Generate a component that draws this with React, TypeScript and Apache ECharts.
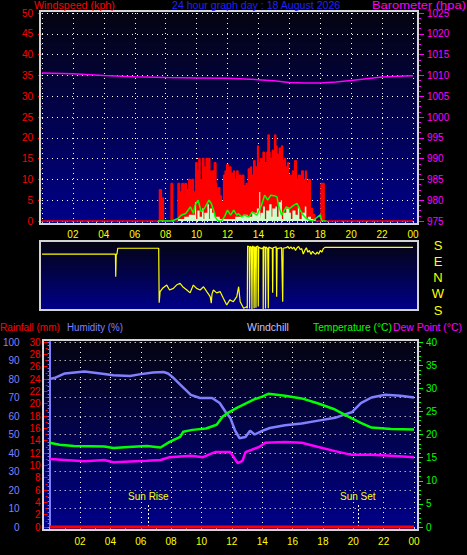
import React, { useEffect, useRef } from 'react';
import * as echarts from 'echarts';

// ---------- DATA ----------
const hourTickLabels = ['', '02', '04', '06', '08', '10', '12', '14', '16', '18', '20', '22', '00'];
const compassLabels = ['S', 'W', 'N', 'E', 'S']; // bottom to top

// Windspeed panel (hours, kph)
const windGust: [number, number][] = [
  [0, 0], [7.6, 7.5], [7.72, 5.5], [7.85, 0], [8.35, 9], [8.45, 0], [8.8, 9], [8.9, 6], [8.95, 7], [9.05, 9],
  [9.15, 6], [9.25, 9], [9.33, 5], [9.4, 7.5], [9.5, 10], [9.6, 8], [9.7, 10], [9.8, 7], [9.88, 5], [9.95, 14],
  [10.02, 9], [10.08, 12], [10.15, 15], [10.22, 10], [10.3, 7], [10.4, 15], [10.47, 11], [10.55, 13], [10.62, 15],
  [10.7, 9], [10.78, 15], [10.85, 12], [10.92, 8], [11.0, 12], [11.08, 10], [11.15, 14], [11.25, 9], [11.3, 5],
  [11.4, 8], [11.5, 6], [11.6, 4.5], [11.75, 11], [11.8, 8], [11.85, 12], [11.95, 13.5], [12.05, 11], [12.1, 7],
  [12.15, 13], [12.22, 9], [12.3, 11.5], [12.4, 12], [12.45, 8], [12.5, 10], [12.6, 12], [12.68, 7], [12.75, 11],
  [12.85, 10], [12.9, 6], [12.95, 11], [13.05, 7], [13.1, 8.5], [13.2, 9], [13.28, 6], [13.35, 12.5], [13.5, 13],
  [13.55, 9], [13.6, 11], [13.7, 14.5], [13.78, 10], [13.85, 13], [13.95, 18], [14.0, 12], [14.05, 14], [14.15, 15],
  [14.22, 11], [14.3, 16.5], [14.38, 12], [14.45, 14], [14.55, 16.5], [14.62, 20.7], [14.7, 16.5], [14.75, 12],
  [14.8, 15], [14.9, 17], [14.95, 13], [15.0, 15], [15.05, 20.7], [15.12, 18], [15.2, 13], [15.25, 16], [15.35, 17.5],
  [15.45, 15], [15.5, 18], [15.56, 12], [15.6, 14.5], [15.7, 15], [15.75, 10], [15.8, 13], [15.9, 14], [15.95, 9],
  [16.0, 11], [16.1, 8], [16.2, 12], [16.28, 9], [16.35, 14.5], [16.45, 8], [16.5, 10], [16.6, 11], [16.7, 7],
  [16.8, 12], [16.9, 8], [16.95, 10], [17.05, 12], [17.1, 6], [17.15, 9], [17.25, 10], [17.35, 3], [17.5, 1.5],
  [17.65, 0], [18.05, 9], [18.25, 0], [24, 0],
];
const windLull: [number, number][] = [
  [0, 0], [8.8, 0.5], [9.2, 1], [9.5, 1.5], [9.9, 4.5], [9.97, 0.5], [10.05, 2.5], [10.2, 1], [10.35, 3], [10.45, 0.5],
  [10.5, 2], [10.7, 4], [10.8, 0.5], [10.85, 3], [11.0, 2], [11.2, 1], [11.5, 0.5], [12.0, 0.5], [12.5, 1], [13.0, 1.5],
  [13.3, 1], [13.6, 2], [13.9, 3], [14.05, 7], [14.12, 0.5], [14.15, 2], [14.3, 3.5], [14.42, 0.5], [14.5, 2.5],
  [14.7, 4], [14.85, 1], [14.9, 3], [15.1, 3.5], [15.2, 1], [15.3, 4.5], [15.45, 5], [15.52, 0.5], [15.6, 2], [15.8, 3],
  [16.0, 2], [16.1, 0.5], [16.2, 2.5], [16.4, 1.5], [16.55, 3.5], [16.65, 0.5], [16.8, 2], [17.0, 3.5], [17.1, 0.5],
  [17.2, 1], [17.4, 0.5], [17.7, 0], [24, 0],
];
const windAvg: [number, number][] = [
  [7.5, 0], [8.0, 0], [8.4, 0], [8.8, 0.6], [9.0, 1.4], [9.3, 1.8], [9.6, 3.4], [9.8, 1.8], [9.9, 3.8], [10.1, 5.0],
  [10.3, 2.2], [10.5, 3.0], [10.8, 5.0], [10.95, 4.2], [11.1, 2.6], [11.2, 1.0], [11.4, 0], [11.6, 0], [11.8, 1.0],
  [12.0, 2.6], [12.2, 1.4], [12.4, 2.6], [12.6, 1.4], [12.7, 1.8], [12.9, 1.0], [13.1, 1.4], [13.4, 1.0], [13.6, 2.2],
  [13.9, 1.4], [14.2, 3.8], [14.4, 6.2], [14.6, 5.0], [14.8, 6.2], [15.0, 6.1], [15.2, 5.8], [15.3, 3.8], [15.5, 1.4],
  [15.8, 3.4], [16.0, 3.0], [16.3, 3.8], [16.5, 4.2], [16.7, 2.6], [16.9, 1.4], [17.1, 0.6], [17.3, 0.2], [17.5, 0],
  [18.0, 1.5], [18.1, 0], [18.4, 0],
];
const barometer: [number, number][] = [
  [0, 1010.6], [2, 1010.4], [4, 1010.0], [6, 1009.7], [8, 1009.5], [10, 1009.4], [12, 1009.3], [13.5, 1009.1],
  [15, 1008.7], [16, 1008.3], [17, 1008.2], [18, 1008.2], [19, 1008.4], [20, 1008.8], [21, 1009.2], [22, 1009.6],
  [23, 1009.8], [24, 1009.9],
];

// Wind direction (hours, compass bearing in degrees)
const windDir: [number, number][] = [
  [0, 129], [4.75, 129], [4.77, 4], [4.8, 129], [4.85, 129], [4.9, 162], [7.55, 162], [7.58, 220], [7.64, 282],
  [7.8, 300], [8.07, 318], [8.25, 291], [8.5, 300], [8.7, 318], [8.93, 328], [9.1, 309], [9.37, 291], [9.58, 275],
  [9.79, 318], [10.0, 300], [10.23, 291], [10.45, 309], [10.66, 282], [10.88, 254], [10.95, 218], [11.0, 270],
  [11.09, 291], [11.3, 275], [11.52, 282], [11.73, 245], [11.95, 208], [12.15, 236], [12.38, 226], [12.6, 254],
  [12.72, 309], [12.82, 226], [13.04, 190], [13.25, 198],
  [13.28, 190], [13.3, 175], [13.4, 170], [13.43, 188], [13.47, 172], [13.55, 168], [13.58, 186], [13.62, 175],
  [13.7, 165], [13.72, 190], [13.76, 172], [13.82, 160], [13.84, 192], [13.87, 170], [13.97, 175], [13.99, 200],
  [14.02, 168], [14.2, 160], [14.3, 165], [14.31, 186], [14.34, 172], [14.44, 165], [14.46, 188], [14.49, 170],
  [14.6, 160], [14.64, 190], [14.67, 168], [14.9, 160], [14.92, 275], [14.95, 165], [15.15, 170], [15.18, 254],
  [15.21, 160], [15.5, 165], [15.57, 226], [15.6, 162],
  [15.8, 165], [15.9, 172], [16.0, 160], [16.1, 170], [16.2, 158], [16.3, 168], [16.4, 150], [16.5, 165], [16.6, 172],
  [16.7, 155], [16.8, 160], [16.9, 130], [17.0, 150], [17.1, 165], [17.2, 140], [17.3, 150], [17.4, 128], [17.5, 145],
  [17.6, 135], [17.7, 128], [17.8, 140], [17.9, 130], [18.0, 150], [18.1, 140], [18.2, 160], [18.3, 167], [24, 167],
];

// Bottom panel (hours, value)
const rainfall: [number, number][] = [[0, 0], [24, 0]];
const humidity: [number, number][] = [
  [0, 80], [0.3, 80.5], [1, 83], [2.3, 84], [3.6, 82.7], [4.2, 82], [5.3, 81.6], [5.9, 82.5], [6.8, 83.5], [7.5, 83.8],
  [7.8, 83], [8.1, 81], [8.6, 77], [9.3, 71.4], [9.9, 69.7], [10.7, 69.7], [11.2, 67], [11.6, 62], [11.9, 59],
  [12.2, 52.4], [12.5, 48], [12.9, 48.6], [13.2, 52], [13.5, 50], [14, 52], [14.5, 53.5], [15.5, 55], [16.6, 56],
  [17.7, 57.5], [18.8, 59], [19.5, 61], [19.9, 62], [20.5, 67], [21.2, 70], [22.1, 71.5], [23.1, 71], [24, 70],
];
const temperature: [number, number][] = [
  [0, 18.2], [0.65, 17.8], [1.6, 17.5], [3.6, 17.4], [4.2, 17.1], [5.2, 17.3], [6.4, 17.5], [7.3, 17.2], [7.9, 18.4],
  [8.6, 19.5], [8.8, 20.6], [9.4, 21.0], [10.3, 21.3], [11.0, 22.1], [11.4, 23.9], [11.8, 24.8], [12.3, 25.7],
  [12.9, 26.7], [13.4, 27.5], [14.0, 28.2], [14.4, 28.8], [15.5, 28.4], [16.6, 27.8], [17.7, 26.7], [18.8, 25.4],
  [19.9, 23.5], [20.5, 22.5], [21.2, 21.5], [22.5, 21.2], [24, 21.1],
];
const dewPoint: [number, number][] = [
  [0, 14.7], [1, 14.5], [2.3, 14.2], [3.6, 14.5], [4.2, 14.0], [6.4, 14.3], [7.3, 14.5], [7.9, 15.1], [9.3, 15.4],
  [10.1, 15.1], [10.6, 15.8], [10.9, 16.2], [11.9, 16.2], [12.2, 14.7], [12.4, 13.8], [12.7, 14.3], [12.9, 16.2],
  [13.8, 17.3], [14.2, 18.2], [15.5, 18.4], [16.6, 18.2], [17.7, 17.3], [18.8, 16.4], [19.9, 15.6], [21.2, 15.6],
  [22.5, 15.4], [24, 15.1],
];
const sunRise = 6.5;
const sunSet = 20.3;

// ---------- STYLE ----------
const FONT = "'Liberation Sans', Arial, sans-serif";
const YELLOW = '#ffff00';
const dotted = { color: '#ffffff', width: 1, type: [1, 4] as number[] };

const bgGrad = () =>
  new echarts.graphic.LinearGradient(0, 0, 0, 1, [
    { offset: 0, color: '#040410' },
    { offset: 1, color: '#00008a' },
  ]);

const panelRects = [
  { x: 40, y: 11, width: 378, height: 213 },
  { x: 40, y: 241, width: 378, height: 69 },
  { x: 43, y: 340, width: 375, height: 190 },
];

// header / legend texts: left x, centre y, target width (px)
const texts: { t: string; x: number; y: number; w: number; c: string }[] = [
  { t: 'Windspeed (kph)', x: 34, y: 5, w: 81, c: '#ff0000' },
  { t: '24 hour graph day : 18 August 2026', x: 172, y: 5, w: 169, c: '#2020ff' },
  { t: 'Barometer (hpa)', x: 372, y: 5, w: 94, c: '#ff00ff' },
  { t: 'Rainfall (mm)', x: 0, y: 327, w: 60, c: '#ff0000' },
  { t: 'Humidity (%)', x: 67, y: 327, w: 56, c: '#8080ff' },
  { t: 'Windchill', x: 247, y: 327, w: 42, c: '#c0c0ff' },
  { t: 'Temperature (°C)', x: 313, y: 327, w: 79, c: '#00ff00' },
  { t: 'Dew Point (°C)', x: 393, y: 327, w: 69, c: '#ff00ff' },
];

function hourFmt(v: number) {
  const i = Math.round(v / 2);
  return Math.abs(v - i * 2) < 1e-6 ? hourTickLabels[i] ?? '' : '';
}

function toCompassAxis(d: number) {
  return d < 180 ? d + 360 : d;
}

export default function App() {
  const ref = useRef<HTMLDivElement>(null);
  useEffect(() => {
    document.body.style.margin = '0';
    document.body.style.background = '#000';
    const chart = echarts.init(ref.current!, null, { renderer: 'svg' });

    const titleFont = `11px ${FONT}`;
    const ctx = document.createElement('canvas').getContext('2d')!;
    ctx.font = titleFont;

    const axisLabelBase = { fontFamily: FONT, fontSize: 10 };
    const plain = (v: number) => String(v);

    const option: any = {
      animation: false,
      backgroundColor: '#000',
      grid: [
        { left: 42, top: 13, width: 371, height: 208 },
        { left: 42, top: 245, width: 371, height: 65 },
        { left: 45, top: 342, width: 369, height: 185 },
      ],
      xAxis: [
        {
          type: 'value', gridIndex: 0, min: 0, max: 24, interval: 2, offset: 3,
          axisLine: { show: false },
          axisTick: { show: true, length: 4, lineStyle: { color: '#c8c8c8' } },
          minorTick: { show: true, splitNumber: 4, length: 3, lineStyle: { color: '#c8c8c8' } },
          axisLabel: { ...axisLabelBase, color: YELLOW, margin: 5, formatter: hourFmt, showMinLabel: true, showMaxLabel: true },
          splitLine: { show: true, lineStyle: dotted },
        },
        { type: 'value', gridIndex: 1, min: 0, max: 24, show: false },
        {
          type: 'value', gridIndex: 2, min: 0, max: 24, interval: 2, offset: 3,
          axisLine: { show: false },
          axisTick: { show: true, length: 4, lineStyle: { color: '#c8c8c8' } },
          minorTick: { show: true, splitNumber: 2, length: 4, lineStyle: { color: '#c8c8c8' } },
          axisLabel: { ...axisLabelBase, color: YELLOW, margin: 6, formatter: hourFmt, showMinLabel: true, showMaxLabel: true },
          splitLine: { show: true, lineStyle: dotted },
        },
      ],
      yAxis: [
        {
          type: 'value', gridIndex: 0, position: 'left', min: 0, max: 50, interval: 5, offset: 2,
          axisLine: { show: false },
          axisTick: { show: true, length: 4, lineStyle: { color: '#ff0000' } },
          minorTick: { show: true, splitNumber: 2, length: 2, lineStyle: { color: '#ff0000' } },
          axisLabel: { ...axisLabelBase, color: '#ff0000', margin: 7 },
          splitLine: { show: true, lineStyle: dotted },
        },
        {
          type: 'value', gridIndex: 0, position: 'right', min: 975, max: 1025, interval: 5, offset: 5,
          axisLine: { show: false },
          axisTick: { show: true, length: 6, lineStyle: { color: '#ff00ff' } },
          minorTick: { show: true, splitNumber: 4, length: 3, lineStyle: { color: '#ff00ff' } },
          axisLabel: { ...axisLabelBase, color: '#ff00ff', margin: 9, formatter: plain },
          splitLine: { show: false },
        },
        {
          type: 'value', gridIndex: 1, position: 'right', min: 180, max: 540, interval: 90,
          axisLine: { show: false }, axisTick: { show: false }, splitLine: { show: false },
          axisLabel: {
            fontFamily: FONT, fontSize: 13, color: YELLOW, margin: 25, align: 'center',
            formatter: (v: number) => compassLabels[Math.round((v - 180) / 90)],
          },
        },
        {
          type: 'value', gridIndex: 2, position: 'left', min: 0, max: 100, interval: 10, offset: 24,
          axisLine: { show: true, lineStyle: { color: '#8080ff', width: 2 } },
          axisTick: { show: true, length: 4, lineStyle: { color: '#8080ff' } },
          minorTick: { show: true, splitNumber: 5, length: 2, lineStyle: { color: '#8080ff' } },
          axisLabel: { ...axisLabelBase, color: '#8080ff', margin: 6 },
          splitLine: { show: true, lineStyle: dotted },
        },
        {
          type: 'value', gridIndex: 2, position: 'left', min: 0, max: 30, interval: 2, offset: 2,
          axisLine: { show: false },
          axisTick: { show: true, length: 4, lineStyle: { color: '#ff0000' } },
          minorTick: { show: true, splitNumber: 2, length: 2, lineStyle: { color: '#ff0000' } },
          axisLabel: { ...axisLabelBase, color: '#ff0000', margin: 7 },
          splitLine: { show: false },
        },
        {
          type: 'value', gridIndex: 2, position: 'right', min: 0, max: 40, interval: 5, offset: 4,
          axisLine: { show: false },
          axisTick: { show: true, length: 5, lineStyle: { color: '#00ff00' } },
          minorTick: { show: true, splitNumber: 5, length: 3, lineStyle: { color: '#00ff00' } },
          axisLabel: { ...axisLabelBase, color: '#00ff00', margin: 8 },
          splitLine: { show: false },
        },
      ],
      graphic: [
        ...panelRects.map((r) => ({
          type: 'rect', shape: r, z: -10, silent: true, style: { fill: bgGrad() },
        })),
        ...panelRects.map((r) => ({
          type: 'rect', shape: r, z: 100, silent: true, style: { fill: 'none', stroke: '#d4d4d4', lineWidth: 2 },
        })),
        ...texts.map((t) => {
          const natural = ctx.measureText(t.t).width || t.w;
          return {
            type: 'text', z: 100, silent: true, x: t.x, y: t.y, scaleX: t.w / natural, scaleY: 1,
            style: { text: t.t, x: 0, y: 0, fill: t.c, font: titleFont, textVerticalAlign: 'middle' },
          };
        }),
      ],
      series: [
        {
          type: 'line', name: 'Gust', xAxisIndex: 0, yAxisIndex: 0, data: windGust, step: 'end',
          symbol: 'none', clip: false, lineStyle: { color: '#ff0000', width: 1.5 },
          areaStyle: { color: '#ff0000', opacity: 1 }, z: 2,
        },
        {
          type: 'line', name: 'Lull', xAxisIndex: 0, yAxisIndex: 0, data: windLull, step: 'end',
          symbol: 'none', lineStyle: { width: 0, color: '#ccffcc' },
          areaStyle: { color: '#ccffcc', opacity: 1 }, z: 3,
        },
        {
          type: 'line', name: 'Wind', xAxisIndex: 0, yAxisIndex: 0, data: windAvg,
          symbol: 'none', lineStyle: { color: '#00ff00', width: 1.5 }, z: 4,
        },
        {
          type: 'line', name: 'Barometer', xAxisIndex: 0, yAxisIndex: 1, data: barometer,
          symbol: 'none', smooth: false, lineStyle: { color: '#ff00ff', width: 1.5 }, z: 5,
        },
        {
          type: 'line', name: 'Direction', xAxisIndex: 1, yAxisIndex: 2,
          data: windDir.map(([t, d]) => [t, toCompassAxis(d)]),
          symbol: 'none', lineStyle: { color: YELLOW, width: 1.2 }, z: 5,
        },
        {
          type: 'line', name: 'Humidity', xAxisIndex: 2, yAxisIndex: 3, data: humidity,
          symbol: 'none', lineStyle: { color: '#8080ff', width: 2.5 }, z: 4,
          markLine: {
            silent: true, symbol: 'none',
            lineStyle: { color: '#ffffff', width: 1, type: [2, 2] },
            label: { show: true, position: 'end', distance: 3, color: YELLOW, fontFamily: FONT, fontSize: 10 },
            data: [
              [{ coord: [sunRise, 0], name: 'Sun Rise' }, { coord: [sunRise, 12.4] }],
              [{ coord: [sunSet, 0], name: 'Sun Set' }, { coord: [sunSet, 12.4] }],
            ].map((p) => p.map((q) => ({ ...q, label: { formatter: '{b}' } }))),
          },
        },
        {
          type: 'line', name: 'Temperature', xAxisIndex: 2, yAxisIndex: 5, data: temperature,
          symbol: 'none', lineStyle: { color: '#00ff00', width: 2.5 }, z: 4,
        },
        {
          type: 'line', name: 'Dew Point', xAxisIndex: 2, yAxisIndex: 5, data: dewPoint,
          symbol: 'none', lineStyle: { color: '#ff00ff', width: 2.5 }, z: 4,
        },
        {
          type: 'line', name: 'Rainfall', xAxisIndex: 2, yAxisIndex: 4, data: rainfall, clip: false,
          symbol: 'none', lineStyle: { color: '#ff0000', width: 3 }, z: 5,
        },
      ],
    };

    chart.setOption(option);
    return () => chart.dispose();
  }, []);
  return <div ref={ref} style={{ width: 467, height: 555, background: '#000' }} />;
}
